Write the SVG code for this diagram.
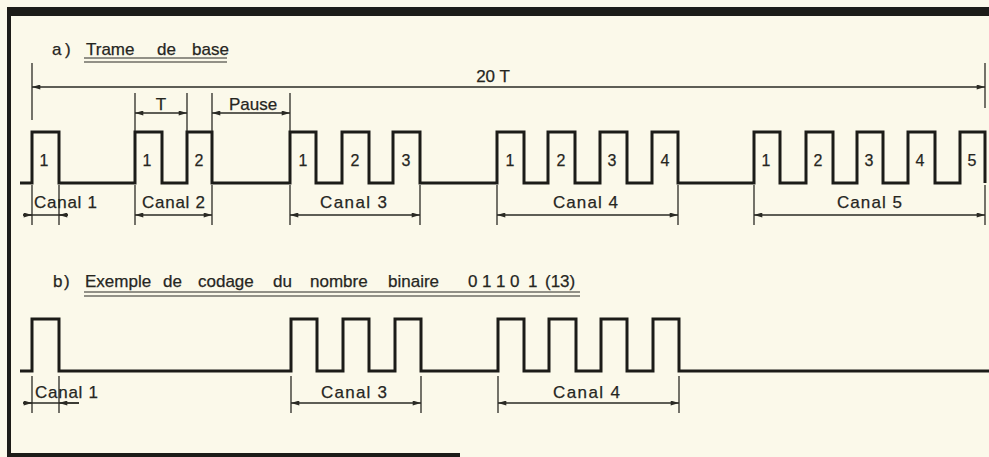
<svg xmlns="http://www.w3.org/2000/svg" width="989" height="457" viewBox="0 0 989 457">
<style>
  .bg{fill:#fbf9ea}
  .frame{fill:#1c1c18}
  .wave{fill:none;stroke:#1c1c18;stroke-width:3;stroke-linejoin:miter}
  .ext{stroke:#2a2a24;stroke-width:1.3;fill:none}
  .dim{stroke:#2a2a24;stroke-width:1.3;fill:none;marker-start:url(#ah);marker-end:url(#ah)}
  .dim1{stroke:#2a2a24;stroke-width:1.3;fill:none;marker-end:url(#ah)}
  .ul{stroke:#2a2a24;stroke-width:1.2}
  text{font-family:"Liberation Sans","DejaVu Sans",Arial,sans-serif;fill:#26261f;stroke:#26261f;stroke-width:0.25}
  .t{font-size:17px}
  .lbl{font-size:17px;text-anchor:middle}
  .num{font-size:16px;text-anchor:middle}
</style>
<defs>
  <marker id="ah" viewBox="0 0 10 6" refX="10" refY="3" markerWidth="9" markerHeight="5" markerUnits="userSpaceOnUse" orient="auto-start-reverse">
    <path d="M0,0 L10,3 L0,6 z" fill="#2a2a24"/>
  </marker>
</defs>
<rect class="bg" x="0" y="0" width="989" height="457"/>
<g id="frame">
  <rect class="frame" x="7" y="7" width="982" height="9"/>
  <rect class="frame" x="7" y="7" width="4" height="450"/>
  <rect class="frame" x="7" y="453" width="453" height="4"/>
</g>

<g id="title-a">
  <text class="t" y="55"><tspan x="52">a</tspan><tspan x="65">)</tspan><tspan x="86">Trame</tspan><tspan x="157">de</tspan><tspan x="192">base</tspan></text>
  <line class="ul" x1="84" y1="58" x2="227" y2="58"/>
  <line class="ul" x1="84" y1="62" x2="227" y2="62"/>
</g>

<g id="wave-a">
  <path class="wave" d="M20,183 H32 V132 H59 V183 H135 V132 H162 V183 H187 V132 H212 V183 H290 V132 H316 V183 H342 V132 H369 V183 H393 V132 H420 V183 H497 V132 H524 V183 H548 V132 H575 V183 H600 V132 H627 V183 H652 V132 H678 V183 H754 V132 H780 V183 H806 V132 H833 V183 H857 V132 H883 V183 H908 V132 H935 V183 H960 V132 H985 V183"/>
  <g id="pulse-numbers-a">
    <text class="num" x="44" y="166">1</text>
    <text class="num" x="147" y="166">1</text>
    <text class="num" x="199" y="166">2</text>
    <text class="num" x="303" y="166">1</text>
    <text class="num" x="355" y="166">2</text>
    <text class="num" x="406" y="166">3</text>
    <text class="num" x="510" y="166">1</text>
    <text class="num" x="561" y="166">2</text>
    <text class="num" x="612" y="166">3</text>
    <text class="num" x="665" y="166">4</text>
    <text class="num" x="766" y="166">1</text>
    <text class="num" x="818" y="166">2</text>
    <text class="num" x="869" y="166">3</text>
    <text class="num" x="920" y="166">4</text>
    <text class="num" x="972" y="166">5</text>
  </g>
</g>

<g id="connectors-a">
  <line class="ext" x1="32" y1="63" x2="32" y2="120"/>
  <line class="ext" x1="985" y1="63" x2="985" y2="108"/>
  <line class="dim" x1="32" y1="87" x2="985" y2="87"/>
  <line class="ext" x1="135" y1="93" x2="135" y2="131"/>
  <line class="ext" x1="187" y1="93" x2="187" y2="131"/>
  <line class="dim" x1="135" y1="113" x2="187" y2="113"/>
  <line class="ext" x1="212" y1="93" x2="212" y2="131"/>
  <line class="ext" x1="290" y1="93" x2="290" y2="131"/>
  <line class="dim" x1="212" y1="113" x2="290" y2="113"/>
  <line class="ext" x1="32" y1="185" x2="32" y2="225"/>
  <line class="ext" x1="59" y1="185" x2="59" y2="225"/>
  <line class="ext" x1="135" y1="185" x2="135" y2="225"/>
  <line class="ext" x1="212" y1="185" x2="212" y2="225"/>
  <line class="ext" x1="290" y1="185" x2="290" y2="225"/>
  <line class="ext" x1="420" y1="185" x2="420" y2="225"/>
  <line class="ext" x1="497" y1="185" x2="497" y2="225"/>
  <line class="ext" x1="678" y1="185" x2="678" y2="225"/>
  <line class="ext" x1="754" y1="185" x2="754" y2="225"/>
  <line class="ext" x1="985" y1="185" x2="985" y2="225"/>
  <line class="ext" x1="23" y1="215" x2="68" y2="215"/>
  <line class="dim1" x1="23" y1="215" x2="32" y2="215"/>
  <line class="dim1" x1="68" y1="215" x2="59" y2="215"/>
  <line class="dim" x1="135" y1="215" x2="212" y2="215"/>
  <line class="dim" x1="290" y1="215" x2="420" y2="215"/>
  <line class="dim" x1="497" y1="215" x2="678" y2="215"/>
  <line class="dim" x1="754" y1="215" x2="985" y2="215"/>
</g>

<g id="labels-a">
  <text class="lbl" x="493" y="82">20 T</text>
  <text class="lbl" x="161" y="110">T</text>
  <text class="lbl" x="253" y="110">Pause</text>
  <text class="t" x="34" y="208" textLength="63">Canal 1</text>
  <text class="t" x="142" y="208" textLength="63">Canal 2</text>
  <text class="t" x="320" y="208" textLength="67">Canal 3</text>
  <text class="t" x="553" y="208" textLength="65">Canal 4</text>
  <text class="t" x="837" y="208" textLength="65">Canal 5</text>
</g>

<g id="title-b">
  <text class="t" y="287"><tspan x="53">b</tspan><tspan x="64">)</tspan><tspan x="85">Exemple</tspan><tspan x="163">de</tspan><tspan x="198">codage</tspan><tspan x="273">du</tspan><tspan x="310">nombre</tspan><tspan x="388">binaire</tspan><tspan x="468">0</tspan><tspan x="482">1</tspan><tspan x="496">1</tspan><tspan x="510">0</tspan><tspan x="528">1</tspan><tspan x="545">(13)</tspan></text>
  <line class="ul" x1="84" y1="292" x2="580" y2="292"/>
  <line class="ul" x1="84" y1="296" x2="580" y2="296"/>
</g>

<g id="wave-b">
  <path class="wave" d="M20,371 H32 V319 H59 V371 H291 V319 H317 V371 H343 V319 H369 V371 H395 V319 H421 V371 H498 V319 H524 V371 H549 V319 H576 V371 H601 V319 H627 V371 H653 V319 H679 V371 H989"/>
</g>

<g id="connectors-b">
  <line class="ext" x1="32" y1="376" x2="32" y2="413"/>
  <line class="ext" x1="59" y1="376" x2="59" y2="413"/>
  <line class="ext" x1="291" y1="376" x2="291" y2="413"/>
  <line class="ext" x1="421" y1="376" x2="421" y2="413"/>
  <line class="ext" x1="498" y1="376" x2="498" y2="413"/>
  <line class="ext" x1="679" y1="376" x2="679" y2="413"/>
  <line class="ext" x1="23" y1="403" x2="79" y2="403"/>
  <line class="dim1" x1="23" y1="403" x2="32" y2="403"/>
  <line class="dim1" x1="79" y1="403" x2="59" y2="403"/>
  <line class="dim" x1="291" y1="403" x2="421" y2="403"/>
  <line class="dim" x1="498" y1="403" x2="679" y2="403"/>
</g>

<g id="labels-b">
  <text class="t" x="35" y="398" textLength="63">Canal 1</text>
  <text class="t" x="321" y="398" textLength="66">Canal 3</text>
  <text class="t" x="553" y="398" textLength="67">Canal 4</text>
</g>
</svg>
